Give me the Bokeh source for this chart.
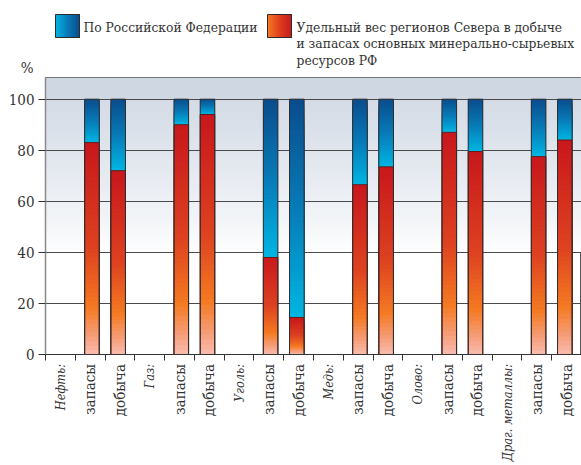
import numpy as np
from bokeh.plotting import figure
from bokeh.models import FixedTicker, Range1d
from bokeh.layouts import column
from bokeh.embed import file_html
from bokeh.resources import INLINE
from bokeh.core.properties import value

# ---------------- data ----------------
categories = ["Нефть:", "запасы", "добыча", "Газ:", "запасы", "добыча",
              "Уголь:", "запасы", "добыча", "Медь:", "запасы", "добыча",
              "Олово:", "запасы", "добыча", "Драг. металлы:", "запасы", "добыча"]
resources = ["Нефть", "Газ", "Уголь", "Медь", "Олово", "Драг. металлы"]
north_reserves = [83, 90, 38, 66.5, 87, 77.5]      # % share of the North, reserves
north_production = [72, 94, 14.5, 73.5, 79.5, 84]  # % share of the North, production
rf_total = 100                                     # Russian Federation = 100 %
y_ticks = [0, 20, 40, 60, 80, 100]
legend_blue = "По Российской Федерации"
legend_red_lines = ["Удельный вес регионов Севера в добыче",
                    "и запасах основных минерально-сырьевых",
                    "ресурсов РФ"]
y_unit = "%"

# ---------------- style ----------------
FONT = "DejaVu Serif Condensed"
TXT = "#333333"
W = 581
LEFT = 45
Y_MAX = 108.5
BAR_W = 0.49
DODGE = 0.06
N_SL = 48

red_stops = [(0.0, "#c8171c"), (0.5, "#dd4220"), (0.78, "#f47a22"),
             (0.9, "#f59a72"), (1.0, "#f9bcae")]
blue_stops = [(0.0, "#0a4c8c"), (0.55, "#0780bb"), (1.0, "#00b6e3")]
blue_swatch = [(0.0, "#00b3e3"), (0.45, "#0780bb"), (1.0, "#0a4c8c")]
red_swatch = [(0.0, "#f47a22"), (0.5, "#e0401f"), (1.0, "#c41a1b")]
bg_top = "#d4dbe6"
band_color = "#cfd7e3"


def hex2rgb(h):
    h = h.lstrip("#")
    return np.array([int(h[i:i + 2], 16) for i in (0, 2, 4)], dtype=float)


def rgb2hex(c):
    c = np.clip(np.round(c), 0, 255).astype(int)
    return "#%02x%02x%02x" % tuple(c)


def grad(stops, t):
    for (t0, c0), (t1, c1) in zip(stops[:-1], stops[1:]):
        if t <= t1:
            f = 0 if t1 == t0 else (t - t0) / (t1 - t0)
            return rgb2hex(hex2rgb(c0) + (hex2rgb(c1) - hex2rgb(c0)) * f)
    return stops[-1][1]


# ---------------- legend figure (page-pixel coordinates) ----------------
LEG_H = 77
leg = figure(width=W, height=LEG_H, x_range=Range1d(LEFT, W), y_range=Range1d(0, LEG_H),
             toolbar_location=None, output_backend="svg", min_border_left=LEFT,
             min_border_right=0, min_border_top=0, min_border_bottom=0,
             outline_line_color=None)
leg.xaxis.visible = False
leg.grid.visible = False
unit_y = LEG_H - 68.5
leg.yaxis.ticker = FixedTicker(ticks=[unit_y])
leg.yaxis.major_label_overrides = {unit_y: y_unit}
leg.yaxis.axis_line_color = None
leg.yaxis.major_tick_line_color = None
leg.yaxis.minor_tick_line_color = None
leg.yaxis.major_tick_out = 0
leg.yaxis.major_tick_in = 0
leg.yaxis.major_label_standoff = 12
leg.yaxis.major_label_text_font = FONT
leg.yaxis.major_label_text_font_size = "15px"
leg.yaxis.major_label_text_color = TXT

for x0, x1, st in [(55, 79, blue_swatch), (267, 291, red_swatch)]:
    n = 24
    xs = np.linspace(x0, x1, n + 1)
    cols = [grad(st, (k + 0.5) / n) for k in range(n)]
    leg.quad(left=xs[:-1], right=[x1] * n, top=LEG_H - 14, bottom=LEG_H - 37,
             fill_color=cols, line_color=None)
    leg.quad(left=x0, right=x1, top=LEG_H - 14, bottom=LEG_H - 37, fill_alpha=0,
             line_color="#2b2b2b", line_width=1)

leg.text(x=[83] + [296] * 3, y=[LEG_H - 26, LEG_H - 26, LEG_H - 42.5, LEG_H - 59],
         text=[legend_blue] + legend_red_lines,
         text_font=value(FONT), text_font_size="13.7px", text_color=TXT,
         text_baseline="middle", text_align="left")

# ---------------- main figure ----------------
FRAME_H = 277
MB = 9
p = figure(width=W, height=FRAME_H + MB, x_range=Range1d(-0.5, len(categories) - 0.5),
           y_range=Range1d(0, Y_MAX), toolbar_location=None, output_backend="svg",
           min_border_left=LEFT, min_border_right=0, min_border_top=0,
           min_border_bottom=MB, outline_line_color="#555555",
           background_fill_color="white", border_fill_color="white")

# background: band above 100 and a soft fade from 100 down to 40
bg_t, bg_c = [Y_MAX], [band_color]
for k in range(N_SL):
    y1 = 100 - 60 * k / N_SL
    s = ((y1 - 30 / N_SL - 40) / 60) ** 0.8
    c = hex2rgb("#ffffff") + (hex2rgb(bg_top) - hex2rgb("#ffffff")) * s
    bg_t.append(y1)
    bg_c.append(rgb2hex(c))
p.quad(left=-0.5, right=len(categories) - 0.5, bottom=[40] * len(bg_t), top=bg_t,
       fill_color=bg_c, line_color=None, level="image")

# bars (overlapping slices drawn top-down give a seamless vertical gradient)
bar_x, bar_v = [], []
for i in range(len(resources)):
    bar_x += [3 * i + 1 + DODGE, 3 * i + 2 - DODGE]
    bar_v += [north_reserves[i], north_production[i]]

L, R, T, B, C = [], [], [], [], []
for x, v in zip(bar_x, bar_v):
    for k in range(N_SL):
        L.append(x - BAR_W / 2); R.append(x + BAR_W / 2)
        T.append(v * (1 - k / N_SL)); B.append(0)
        C.append(grad(red_stops, (k + 0.5) / N_SL))
    for k in range(N_SL):
        L.append(x - BAR_W / 2); R.append(x + BAR_W / 2)
        T.append(rf_total - (rf_total - v) * k / N_SL); B.append(v)
        C.append(grad(blue_stops, (k + 0.5) / N_SL))
p.quad(left=L, right=R, top=T, bottom=B, fill_color=C, line_color=None)

p.vbar(x=bar_x, top=bar_v, bottom=0, width=BAR_W, fill_alpha=0,
       line_color="#6e1712", line_width=1)
p.vbar(x=bar_x, top=rf_total, bottom=0, width=BAR_W, fill_alpha=0,
       line_color="#2f2f2f", line_width=1)

p.xgrid.visible = False
p.ygrid.ticker = FixedTicker(ticks=y_ticks)
p.ygrid.grid_line_color = "#4a4a4a"
p.ygrid.grid_line_width = 1

bounds = [k - 0.5 for k in range(len(categories))]
p.xaxis.ticker = FixedTicker(ticks=bounds)
p.xaxis.major_label_overrides = {b: "" for b in bounds}
p.xaxis.major_label_text_font_size = "1px"
p.xaxis.major_label_standoff = 0
p.xaxis.major_tick_out = 6
p.xaxis.major_tick_in = 0
p.xaxis.minor_tick_line_color = None
p.xaxis.axis_line_color = "#333333"
p.xaxis.major_tick_line_color = "#333333"

p.yaxis.ticker = FixedTicker(ticks=y_ticks)
p.yaxis.major_tick_out = 7
p.yaxis.major_tick_in = 0
p.yaxis.minor_tick_line_color = None
p.yaxis.axis_line_color = "#8a8a8a"
p.yaxis.axis_line_width = 1.5
p.yaxis.major_tick_line_color = "#333333"
p.yaxis.major_label_text_font = FONT
p.yaxis.major_label_text_font_size = "15px"
p.yaxis.major_label_text_color = TXT
p.yaxis.major_label_standoff = 4

# ---------------- category labels figure ----------------
LAB_H = 465 - LEG_H - FRAME_H - MB
lab = figure(width=W, height=LAB_H, x_range=p.x_range, y_range=Range1d(0, LAB_H),
             toolbar_location=None, output_backend="svg", min_border_left=LEFT,
             min_border_right=0, min_border_top=0, min_border_bottom=0,
             outline_line_color=None)
lab.axis.visible = False
lab.grid.visible = False
idx = list(range(len(categories)))
it_x = [i for i in idx if categories[i].endswith(":")]
no_x = [i for i in idx if not categories[i].endswith(":")]
for xs_, style, fs in ((it_x, "italic", "12.6px"), (no_x, "normal", "15px")):
    lab.text(x=xs_, y=[LAB_H - 0.5] * len(xs_), text=[categories[i] for i in xs_],
             angle=np.pi / 2, text_align="right", text_baseline="middle",
             text_font=value(FONT), text_font_size=fs,
             text_font_style=style, text_color=TXT)

layout = column(leg, p, lab, spacing=0)
open("out.html", "w").write(file_html(layout, INLINE))
